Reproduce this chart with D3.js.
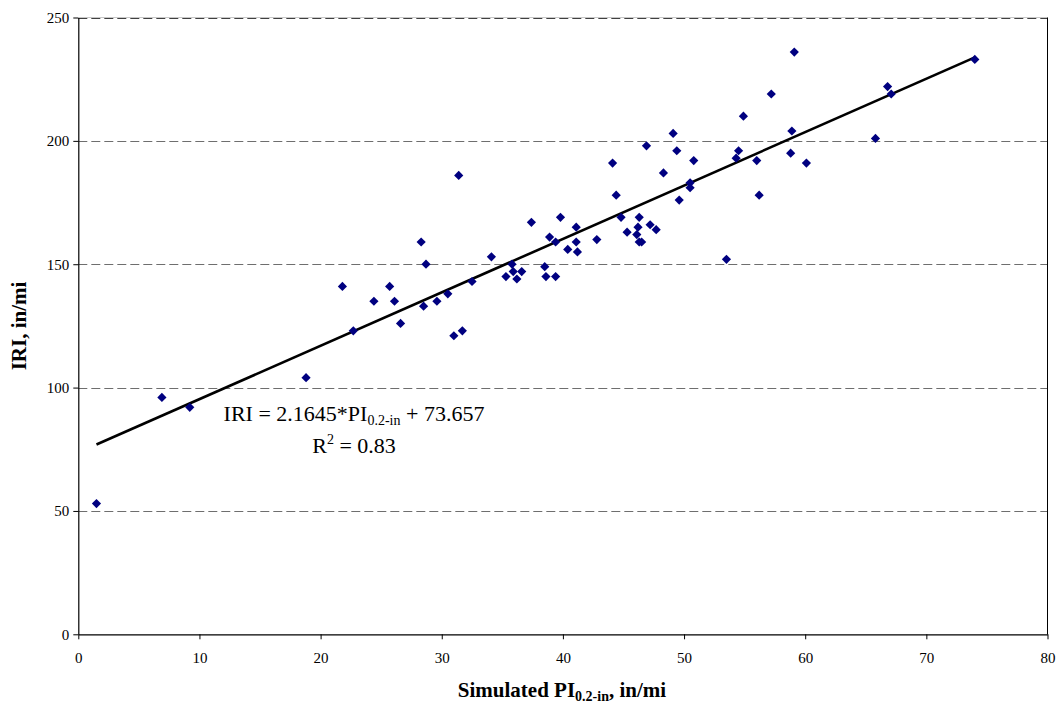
<!DOCTYPE html>
<html>
<head>
<meta charset="utf-8">
<script src="https://cdn.jsdelivr.net/npm/d3@7"></script>
<style>
  html, body { margin: 0; padding: 0; background: #fff; }
  svg { display: block; }
  text { font-family: "Liberation Serif", "Times New Roman", serif; fill: #000; }
</style>
</head>
<body>
<svg id="chart" width="1057" height="704"></svg>
<script>
// ---- data ----
const piValues = [1.5, 6.9, 9.2, 18.8, 21.8, 22.7, 24.4, 25.7, 26.1, 26.6,
  28.3, 28.5, 28.7, 29.6, 30.5, 31.0, 31.4, 31.7, 32.5, 34.1,
  35.3, 35.8, 35.9, 36.2, 36.6, 37.4, 38.5, 38.6, 38.9, 39.4,
  39.4, 39.8, 40.4, 41.1, 41.1, 41.2, 42.8, 44.1, 44.4, 44.8,
  45.3, 46.1, 46.2, 46.3, 46.3, 46.5, 46.9, 47.2, 47.7, 48.3,
  49.1, 49.4, 49.6, 50.5, 50.5, 50.8, 53.5, 54.3, 54.5, 54.9,
  56.0, 56.2, 57.2, 58.8, 58.9, 59.1, 60.1, 65.8, 66.8, 67.1, 74.0];
const iriValues = [53, 96, 92, 104, 141, 123, 135, 141, 135, 126,
  159, 133, 150, 135, 138, 121, 186, 123, 143, 153,
  145, 150, 147, 144, 147, 167, 149, 145, 161, 159,
  145, 169, 156, 165, 159, 155, 160, 191, 178, 169,
  163, 162, 165, 169, 159, 159, 198, 166, 164, 187,
  203, 196, 176, 183, 181, 192, 152, 193, 196, 210,
  192, 178, 219, 195, 204, 236, 191, 201, 222, 219, 233];
const xTicks = [0, 10, 20, 30, 40, 50, 60, 70, 80];
const yTicks = [0, 50, 100, 150, 200, 250];
const trendSlope = 2.1645;
const trendIntercept = 73.657;
const rSquared = "0.83";

// ---- layout ----
const svg = d3.select("#chart");
const pL = 78.3, pR = 1047.5, pT = 17.5, pB = 634.3;
const x = d3.scaleLinear().domain([0, 80]).range([pL, pR]);
const y = d3.scaleLinear().domain([0, 250]).range([pB, pT]);

// top light border underneath dashes
svg.append("line").attr("x1", pL).attr("x2", pR).attr("y1", pT).attr("y2", pT)
  .attr("stroke", "#c8c8c8").attr("stroke-width", 1);

// gridlines
svg.append("g").selectAll("line")
  .data(yTicks.filter(d => d > 0))
  .join("line")
  .attr("x1", pL).attr("x2", pR)
  .attr("y1", d => Math.round(y(d)) + 0.5).attr("y2", d => Math.round(y(d)) + 0.5)
  .attr("stroke", d => d === 250 ? "#404040" : "#6e6e6e")
  .attr("stroke-width", 1)
  .attr("stroke-dasharray", "9,4");

// right border
svg.append("line").attr("x1", pR).attr("x2", pR).attr("y1", pT).attr("y2", pB)
  .attr("stroke", "#000").attr("stroke-width", 1);

// axes
const xAxis = svg.append("g").attr("transform", `translate(0,${pB})`)
  .call(d3.axisBottom(x).tickValues(xTicks).tickSize(5).tickSizeOuter(0).tickPadding(13));
const yAxis = svg.append("g").attr("transform", `translate(${pL},0)`)
  .call(d3.axisLeft(y).tickValues(yTicks).tickSize(5).tickSizeOuter(0).tickPadding(4));
[xAxis, yAxis].forEach(a => {
  a.attr("font-family", "Liberation Serif, serif");
  a.selectAll("path.domain").attr("stroke", "#000").attr("stroke-width", 1.2);
  a.selectAll(".tick line").attr("stroke", "#000");
  a.selectAll(".tick text").attr("font-family", "Liberation Serif, serif").attr("font-size", 15).attr("fill", "#000");
});

// trendline
const xMin = d3.min(piValues), xMax = d3.max(piValues);
svg.append("line")
  .attr("x1", x(xMin)).attr("y1", y(trendSlope * xMin + trendIntercept))
  .attr("x2", x(xMax)).attr("y2", y(trendSlope * xMax + trendIntercept))
  .attr("stroke", "#000").attr("stroke-width", 2.6);

// points
const pts = piValues.map((v, i) => ({ x: v, y: iriValues[i] }));
svg.append("g").selectAll("path")
  .data(pts).join("path")
  .attr("transform", d => `translate(${x(d.x)},${y(d.y)})`)
  .attr("d", "M0,-4.6L4.6,0L0,4.6L-4.6,0Z")
  .attr("fill", "#000080");

// equation
const eq = svg.append("text").attr("x", 354).attr("y", 421).attr("text-anchor", "middle").attr("font-size", 22);
eq.append("tspan").text("IRI = 2.1645*PI");
eq.append("tspan").attr("font-size", 14).attr("dy", 4).text("0.2-in");
eq.append("tspan").attr("dy", -4).text(" + 73.657");
const r2 = svg.append("text").attr("x", 354).attr("y", 453).attr("text-anchor", "middle").attr("font-size", 22);
r2.append("tspan").text("R");
r2.append("tspan").attr("font-size", 14).attr("dy", -9).text("2");
r2.append("tspan").attr("dy", 9).text(" = " + rSquared);

// axis titles
const xt = svg.append("text").attr("x", 562).attr("y", 697).attr("text-anchor", "middle")
  .attr("font-size", 21).attr("font-weight", "bold");
xt.append("tspan").text("Simulated PI");
xt.append("tspan").attr("font-size", 14).attr("dy", 4).text("0.2-in");
xt.append("tspan").attr("dy", -4).text(", in/mi");

svg.append("text").attr("transform", "translate(26,326) rotate(-90)")
  .attr("text-anchor", "middle").attr("font-size", 21).attr("font-weight", "bold")
  .text("IRI, in/mi");
</script>
</body>
</html>
